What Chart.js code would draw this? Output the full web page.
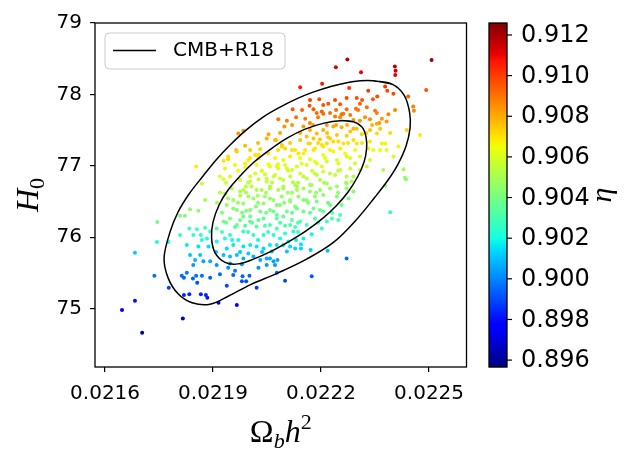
<!DOCTYPE html>
<html>
<head>
<meta charset="utf-8">
<script src="https://cdn.jsdelivr.net/npm/chart.js@4.4.0/dist/chart.umd.min.js"></script>
<style>
  html, body { margin: 0; padding: 0; background: #fff; }
  #wrap { width: 634px; height: 465px; }
</style>
</head>
<body>
<div id="wrap"><canvas id="chart" width="634" height="465"></canvas></div>
<script>
// samples: [omega_b h^2, H0, eta]
const redBand = [
  [0.022273, 78.49, 0.9117], [0.022241, 78.38, 0.9113], [0.022311, 78.31, 0.9110],
  [0.022405, 78.39, 0.9117], [0.022407, 78.33, 0.9114], [0.022406, 78.27, 0.9111],
  [0.022507, 78.48, 0.9121], [0.022142, 78.10, 0.9106], [0.022203, 78.15, 0.9107],
  [0.022278, 78.09, 0.9103], [0.022378, 78.11, 0.9102], [0.022384, 78.05, 0.9099],
  [0.022401, 78.01, 0.9097], [0.022331, 78.05, 0.9100], [0.022356, 77.97, 0.9097],
  [0.022344, 77.93, 0.9095], [0.022442, 77.97, 0.9094], [0.022492, 78.06, 0.9096],
  [0.022195, 77.93, 0.9097], [0.022299, 77.95, 0.9097], [0.022271, 77.95, 0.9098]
];

const orangeBand = [
  [0.022168, 77.84, 0.9097], [0.022179, 77.79, 0.9095], [0.022206, 77.85, 0.9096],
  [0.022220, 77.87, 0.9096], [0.022188, 77.74, 0.9092], [0.022202, 77.76, 0.9093],
  [0.022225, 77.74, 0.9091], [0.022253, 77.86, 0.9095], [0.022271, 77.79, 0.9092],
  [0.022257, 77.72, 0.9090], [0.022281, 77.71, 0.9089], [0.022308, 77.87, 0.9094],
  [0.022327, 77.82, 0.9091], [0.022297, 77.80, 0.9091], [0.022350, 77.77, 0.9089],
  [0.022355, 77.74, 0.9088], [0.022369, 77.66, 0.9084], [0.022387, 77.72, 0.9087],
  [0.022382, 77.62, 0.9083], [0.022362, 77.60, 0.9083], [0.022336, 77.65, 0.9085],
  [0.022308, 77.63, 0.9084], [0.022290, 77.64, 0.9085], [0.022156, 77.66, 0.9089],
  [0.022169, 77.60, 0.9087], [0.022151, 77.55, 0.9084], [0.022121, 77.79, 0.9096],
  [0.022105, 77.63, 0.9089], [0.022456, 77.83, 0.9088], [0.022458, 77.77, 0.9086],
  [0.022438, 77.50, 0.9073], [0.022475, 77.43, 0.9068], [0.022206, 77.73, 0.9092],
  [0.022239, 77.69, 0.9089], [0.022262, 77.73, 0.9090], [0.022216, 77.57, 0.9084],
  [0.022290, 77.52, 0.9078], [0.022336, 77.50, 0.9076], [0.022355, 77.59, 0.9081],
  [0.022081, 77.65, 0.9090], [0.022098, 77.55, 0.9084], [0.021984, 77.49, 0.9085],
  [0.021970, 77.45, 0.9084], [0.022054, 77.44, 0.9080], [0.022049, 77.38, 0.9078],
  [0.022075, 77.36, 0.9077], [0.022169, 77.50, 0.9080], [0.022188, 77.45, 0.9077],
  [0.022206, 77.50, 0.9079], [0.022234, 77.55, 0.9081], [0.022257, 77.54, 0.9080],
  [0.022281, 77.48, 0.9075], [0.022299, 77.52, 0.9076], [0.022313, 77.44, 0.9073],
  [0.022271, 77.42, 0.9073], [0.022244, 77.43, 0.9075], [0.022220, 77.40, 0.9074],
  [0.022197, 77.37, 0.9074], [0.022179, 77.38, 0.9075], [0.022160, 77.41, 0.9076],
  [0.022142, 77.36, 0.9075], [0.022169, 77.31, 0.9072], [0.022216, 77.31, 0.9071],
  [0.022234, 77.34, 0.9071], [0.022290, 77.36, 0.9071], [0.022262, 77.31, 0.9070],
  [0.022091, 77.29, 0.9074], [0.022100, 77.24, 0.9072], [0.022072, 77.36, 0.9077],
  [0.022128, 77.22, 0.9070], [0.022336, 77.34, 0.9069], [0.022355, 77.45, 0.9072],
  [0.022364, 77.52, 0.9075], [0.022369, 77.31, 0.9067], [0.022382, 77.22, 0.9063],
  [0.022345, 77.22, 0.9064], [0.022331, 77.24, 0.9066], [0.021989, 77.28, 0.9077],
  [0.021964, 77.22, 0.9076], [0.022031, 77.23, 0.9073], [0.021966, 77.20, 0.9074],
  [0.022026, 77.15, 0.9070], [0.022054, 77.17, 0.9071], [0.022091, 77.27, 0.9073],
  [0.022119, 77.22, 0.9071], [0.022137, 77.17, 0.9069], [0.022165, 77.31, 0.9072],
  [0.022183, 77.24, 0.9069], [0.022202, 77.29, 0.9070], [0.021942, 77.13, 0.9072],
  [0.022225, 77.38, 0.9073], [0.022248, 77.34, 0.9071], [0.022299, 77.31, 0.9069],
  [0.022378, 77.31, 0.9067], [0.022206, 77.27, 0.9069]
];

const yellowBand = [
  [0.022095, 77.08, 0.9066], [0.022114, 77.13, 0.9067], [0.022151, 77.17, 0.9068],
  [0.022179, 77.22, 0.9069], [0.022206, 77.15, 0.9065], [0.022234, 77.20, 0.9066],
  [0.022253, 77.24, 0.9068], [0.022244, 77.08, 0.9061], [0.022271, 77.13, 0.9062],
  [0.022216, 77.06, 0.9061], [0.022188, 77.03, 0.9061], [0.022160, 77.01, 0.9061],
  [0.022133, 76.99, 0.9061], [0.022077, 76.99, 0.9063], [0.022105, 76.96, 0.9061],
  [0.022281, 76.96, 0.9056], [0.022308, 77.13, 0.9061], [0.022294, 77.03, 0.9058],
  [0.022336, 77.08, 0.9059], [0.022327, 76.99, 0.9055], [0.022401, 77.13, 0.9059],
  [0.022415, 77.27, 0.9064], [0.022429, 76.95, 0.9050], [0.022436, 76.81, 0.9045],
  [0.022188, 76.87, 0.9055], [0.022225, 76.89, 0.9055], [0.022253, 76.94, 0.9056],
  [0.022151, 76.85, 0.9055], [0.022114, 76.85, 0.9056], [0.022086, 76.82, 0.9056],
  [0.022017, 77.15, 0.9070], [0.022026, 77.10, 0.9068], [0.021929, 77.07, 0.9070],
  [0.021942, 77.09, 0.9071], [0.021961, 77.01, 0.9067], [0.021989, 77.03, 0.9067],
  [0.021998, 77.08, 0.9068], [0.021989, 76.98, 0.9065], [0.021933, 76.96, 0.9066],
  [0.021853, 76.99, 0.9068], [0.022021, 77.01, 0.9065], [0.022035, 76.93, 0.9062],
  [0.022058, 76.99, 0.9063], [0.022080, 77.02, 0.9063], [0.022044, 76.88, 0.9059],
  [0.021919, 76.85, 0.9062], [0.021929, 76.81, 0.9060], [0.022003, 76.78, 0.9057],
  [0.022026, 76.81, 0.9057], [0.022049, 76.78, 0.9055], [0.022068, 76.85, 0.9058],
  [0.022017, 76.89, 0.9061], [0.022054, 77.02, 0.9064], [0.022081, 76.96, 0.9062],
  [0.022100, 77.01, 0.9063], [0.022119, 76.94, 0.9060], [0.022146, 77.03, 0.9062],
  [0.022169, 77.09, 0.9064], [0.022183, 77.06, 0.9063], [0.022202, 76.99, 0.9060],
  [0.021947, 76.85, 0.9060], [0.021975, 76.80, 0.9058], [0.022003, 76.85, 0.9059],
  [0.022049, 76.82, 0.9057], [0.022072, 76.87, 0.9058], [0.022095, 76.80, 0.9055],
  [0.022122, 76.77, 0.9053], [0.022142, 76.89, 0.9058], [0.022160, 76.82, 0.9055],
  [0.022183, 76.89, 0.9056], [0.022197, 76.80, 0.9052], [0.022267, 77.17, 0.9064],
  [0.022248, 77.03, 0.9060], [0.022308, 76.94, 0.9055], [0.022206, 76.92, 0.9058],
  [0.022239, 76.87, 0.9055], [0.022271, 76.85, 0.9054], [0.022285, 76.78, 0.9050],
  [0.022373, 76.94, 0.9050], [0.022433, 76.83, 0.9045]
];

const greenBand = [
  [0.022290, 76.85, 0.9051], [0.022271, 76.75, 0.9048], [0.022169, 76.73, 0.9050],
  [0.022133, 76.71, 0.9050], [0.022095, 76.71, 0.9051], [0.022216, 76.75, 0.9050],
  [0.022244, 76.71, 0.9047], [0.022378, 76.72, 0.9044], [0.021869, 76.75, 0.9056],
  [0.021991, 76.71, 0.9054], [0.021836, 76.39, 0.9045], [0.021859, 76.37, 0.9044],
  [0.021878, 76.52, 0.9050], [0.021822, 76.30, 0.9042], [0.021808, 76.30, 0.9042],
  [0.021745, 76.21, 0.9040], [0.021929, 76.22, 0.9040], [0.021947, 76.26, 0.9041],
  [0.021966, 76.17, 0.9037], [0.021984, 76.29, 0.9039], [0.022003, 76.22, 0.9036],
  [0.022021, 76.15, 0.9034], [0.022040, 76.26, 0.9036], [0.022058, 76.17, 0.9032],
  [0.022077, 76.26, 0.9035], [0.021910, 76.12, 0.9034], [0.021938, 76.45, 0.9045],
  [0.021956, 76.52, 0.9048], [0.021984, 76.47, 0.9046], [0.022012, 76.54, 0.9048],
  [0.022040, 76.47, 0.9044], [0.022058, 76.54, 0.9046], [0.022077, 76.45, 0.9042],
  [0.022003, 76.38, 0.9042], [0.022031, 76.36, 0.9040], [0.021966, 76.38, 0.9043],
  [0.022068, 76.36, 0.9039], [0.021933, 76.61, 0.9052], [0.021975, 76.64, 0.9052],
  [0.022021, 76.66, 0.9052], [0.022058, 76.68, 0.9051], [0.022077, 76.12, 0.9030],
  [0.022114, 76.17, 0.9031], [0.022142, 76.22, 0.9032], [0.022160, 76.17, 0.9029],
  [0.022183, 76.26, 0.9032], [0.022202, 76.12, 0.9026], [0.022216, 76.22, 0.9029],
  [0.022230, 76.26, 0.9030], [0.022248, 76.24, 0.9029], [0.022253, 76.31, 0.9031],
  [0.022206, 76.36, 0.9035], [0.022179, 76.40, 0.9038], [0.022151, 76.36, 0.9037],
  [0.022133, 76.40, 0.9039], [0.022105, 76.36, 0.9038], [0.022077, 76.31, 0.9037],
  [0.022086, 76.45, 0.9042], [0.022114, 76.50, 0.9043], [0.022151, 76.52, 0.9043],
  [0.022188, 76.50, 0.9041], [0.022225, 76.45, 0.9038], [0.022257, 76.45, 0.9037],
  [0.022276, 76.54, 0.9040], [0.022244, 76.57, 0.9042], [0.022206, 76.59, 0.9044],
  [0.022169, 76.64, 0.9046], [0.022133, 76.66, 0.9049], [0.022095, 76.68, 0.9050],
  [0.022225, 76.68, 0.9047], [0.022271, 76.68, 0.9045], [0.022290, 76.64, 0.9043],
  [0.021952, 76.68, 0.9054], [0.021984, 76.66, 0.9053], [0.022007, 76.71, 0.9053],
  [0.022035, 76.66, 0.9051], [0.022058, 76.71, 0.9052], [0.022081, 76.66, 0.9050],
  [0.022108, 76.62, 0.9048], [0.022128, 76.73, 0.9051], [0.022151, 76.68, 0.9049],
  [0.022174, 76.73, 0.9050], [0.022197, 76.66, 0.9047], [0.021942, 76.54, 0.9049],
  [0.021975, 76.58, 0.9050], [0.021998, 76.57, 0.9049], [0.022024, 76.58, 0.9049],
  [0.022044, 76.57, 0.9048], [0.022068, 76.52, 0.9046], [0.022091, 76.57, 0.9047],
  [0.022114, 76.52, 0.9045], [0.022137, 76.57, 0.9046], [0.022160, 76.52, 0.9044],
  [0.022183, 76.57, 0.9045], [0.021956, 76.40, 0.9044], [0.021992, 76.37, 0.9042],
  [0.022019, 76.43, 0.9043], [0.022058, 76.38, 0.9041], [0.022128, 76.43, 0.9041],
  [0.022197, 76.38, 0.9038], [0.021975, 76.24, 0.9038], [0.022003, 76.29, 0.9038],
  [0.022026, 76.24, 0.9036], [0.022095, 76.29, 0.9036], [0.022119, 76.24, 0.9034],
  [0.021961, 76.14, 0.9034], [0.021989, 76.16, 0.9034], [0.022044, 76.16, 0.9033],
  [0.022100, 76.16, 0.9032], [0.022128, 76.14, 0.9030], [0.022392, 76.35, 0.9025]
];

const cyanBand = [
  [0.021744, 75.93, 0.9020], [0.021776, 75.93, 0.9020], [0.021808, 76.03, 0.9025],
  [0.021834, 76.12, 0.9030], [0.021855, 76.11, 0.9030], [0.021845, 76.03, 0.9025],
  [0.021866, 76.03, 0.9025], [0.021878, 76.13, 0.9030], [0.021892, 76.08, 0.9027],
  [0.021883, 75.98, 0.9022], [0.021869, 75.96, 0.9021], [0.021827, 75.89, 0.9017],
  [0.021859, 75.87, 0.9016], [0.021887, 75.87, 0.9016], [0.021836, 75.75, 0.9011],
  [0.021864, 75.75, 0.9011], [0.021850, 75.68, 0.9008], [0.021892, 75.66, 0.9007],
  [0.021929, 75.75, 0.9010], [0.021947, 75.73, 0.9009], [0.021910, 75.94, 0.9020],
  [0.021933, 75.98, 0.9022], [0.021938, 75.84, 0.9014], [0.021956, 75.89, 0.9017],
  [0.021970, 75.96, 0.9021], [0.021984, 75.87, 0.9016], [0.022003, 75.89, 0.9017],
  [0.022021, 75.87, 0.9016], [0.022040, 75.84, 0.9014], [0.022058, 75.89, 0.9016],
  [0.022077, 75.89, 0.9016], [0.021998, 75.77, 0.9011], [0.021966, 75.75, 0.9010],
  [0.021947, 75.63, 0.9004], [0.021984, 75.70, 0.9007], [0.022012, 75.73, 0.9008],
  [0.022031, 75.68, 0.9006], [0.022049, 75.70, 0.9007], [0.022068, 75.66, 0.9005],
  [0.021984, 76.08, 0.9026], [0.022012, 76.03, 0.9024], [0.022040, 76.03, 0.9023],
  [0.022068, 76.03, 0.9022], [0.021947, 76.03, 0.9025], [0.021683, 75.78, 0.9012],
  [0.022218, 75.81, 0.9010], [0.022171, 75.82, 0.9012], [0.022144, 75.84, 0.9013],
  [0.022128, 75.84, 0.9013], [0.022114, 75.87, 0.9014], [0.022095, 75.89, 0.9016],
  [0.022144, 75.90, 0.9016], [0.022151, 75.98, 0.9018], [0.022174, 76.04, 0.9019],
  [0.022086, 75.98, 0.9020], [0.022109, 75.94, 0.9018], [0.022100, 76.05, 0.9023],
  [0.022123, 76.08, 0.9023], [0.021980, 75.62, 0.9004], [0.022026, 75.57, 0.9001],
  [0.022049, 75.61, 0.9003], [0.021942, 75.57, 0.9001], [0.021910, 75.61, 0.9003],
  [0.021873, 75.66, 0.9005], [0.021845, 75.61, 0.9003], [0.022063, 75.80, 0.9011],
  [0.022105, 75.80, 0.9011]
];

const blueBand = [
  [0.021919, 75.48, 0.8996], [0.021961, 75.53, 0.8998], [0.021982, 75.45, 0.8994],
  [0.021992, 75.38, 0.8991], [0.021980, 75.38, 0.8991], [0.022001, 75.46, 0.8994],
  [0.021956, 75.47, 0.8995], [0.022021, 75.29, 0.8987], [0.021938, 75.32, 0.8989],
  [0.021892, 75.43, 0.8994], [0.021869, 75.46, 0.8996], [0.021853, 75.46, 0.8996],
  [0.021856, 75.36, 0.8991], [0.021844, 75.42, 0.8994], [0.021827, 75.50, 0.8998],
  [0.021813, 75.46, 0.8996], [0.021819, 75.43, 0.8994], [0.021737, 75.46, 0.8997],
  [0.021777, 75.29, 0.8989], [0.021819, 75.19, 0.8984], [0.021834, 75.20, 0.8984],
  [0.021866, 75.20, 0.8984], [0.021880, 75.19, 0.8984], [0.021884, 75.15, 0.8982],
  [0.021915, 75.08, 0.8978], [0.021966, 75.05, 0.8977], [0.021683, 75.11, 0.8980],
  [0.021647, 74.98, 0.8973], [0.021816, 74.86, 0.8966], [0.021703, 74.66, 0.8962],
  [0.022077, 75.50, 0.8995], [0.022271, 75.70, 0.8996], [0.022174, 75.45, 0.8993],
  [0.022100, 75.39, 0.8990], [0.022072, 75.61, 0.9003], [0.022079, 75.68, 0.9006],
  [0.022058, 75.70, 0.9007]
];

// extra dots inside the densely packed inner region
const coreBand = [
  [0.0221694, 77.92, 0.9100], [0.0222389, 77.92, 0.9098], [0.0223139, 77.92, 0.9096],
  [0.0221472, 77.78, 0.9094], [0.0222417, 77.78, 0.9092], [0.0223028, 77.78, 0.9090],
  [0.0224056, 77.78, 0.9087], [0.0221306, 77.68, 0.9091], [0.0221917, 77.68, 0.9089],
  [0.0222528, 77.68, 0.9087], [0.0223222, 77.68, 0.9085], [0.0221194, 77.57, 0.9084],
  [0.0221778, 77.57, 0.9083], [0.0222417, 77.57, 0.9081], [0.0222722, 77.57, 0.9080],
  [0.0223417, 77.57, 0.9078], [0.0220861, 77.46, 0.9080], [0.0221417, 77.46, 0.9079],
  [0.0222167, 77.46, 0.9076], [0.0223250, 77.46, 0.9073], [0.0223917, 77.46, 0.9071],
  [0.0220250, 77.32, 0.9077], [0.0221139, 77.32, 0.9074], [0.0221917, 77.32, 0.9072],
  [0.0222750, 77.32, 0.9070], [0.0223139, 77.32, 0.9069], [0.0220028, 77.22, 0.9074],
  [0.0220806, 77.22, 0.9071], [0.0221556, 77.22, 0.9069], [0.0222250, 77.22, 0.9067],
  [0.0222944, 77.22, 0.9065], [0.0223639, 77.22, 0.9063], [0.0220028, 77.11, 0.9069],
  [0.0220722, 77.11, 0.9067], [0.0221417, 77.11, 0.9065], [0.0222111, 77.11, 0.9063],
  [0.0222806, 77.11, 0.9061], [0.0219694, 76.93, 0.9064], [0.0220361, 76.93, 0.9062],
  [0.0221083, 76.93, 0.9060], [0.0221750, 76.93, 0.9058], [0.0222472, 76.93, 0.9056],
  [0.0219361, 76.76, 0.9058], [0.0219972, 76.76, 0.9056], [0.0220639, 76.76, 0.9054],
  [0.0221361, 76.76, 0.9052], [0.0222083, 76.76, 0.9050], [0.0222694, 76.76, 0.9048],
  [0.0219194, 76.62, 0.9053], [0.0219917, 76.62, 0.9051], [0.0220472, 76.62, 0.9049],
  [0.0221194, 76.62, 0.9047], [0.0221861, 76.62, 0.9045], [0.0222472, 76.62, 0.9044],
  [0.0219111, 76.48, 0.9048], [0.0219694, 76.48, 0.9047], [0.0220250, 76.48, 0.9045],
  [0.0220972, 76.48, 0.9043], [0.0221639, 76.48, 0.9041], [0.0222194, 76.48, 0.9039],
  [0.0219250, 76.34, 0.9042], [0.0219806, 76.34, 0.9040], [0.0220472, 76.34, 0.9038],
  [0.0221194, 76.34, 0.9036], [0.0221694, 76.34, 0.9035], [0.0222306, 76.34, 0.9033],
  [0.0219361, 76.20, 0.9037], [0.0220083, 76.20, 0.9034], [0.0220861, 76.20, 0.9032],
  [0.0221361, 76.20, 0.9031], [0.0221917, 76.20, 0.9029], [0.0219250, 76.07, 0.9030],
  [0.0219972, 76.07, 0.9028], [0.0220528, 76.07, 0.9027], [0.0221361, 76.07, 0.9025],
  [0.0219528, 75.96, 0.9020], [0.0220250, 75.96, 0.9019], [0.0221306, 75.96, 0.9017],
  [0.0219083, 75.79, 0.9011], [0.0219750, 75.79, 0.9011], [0.0220361, 75.79, 0.9010]
];

// CMB+R18 contours
const outerContour = [
  [0.0223444, 78.192], [0.0223972, 78.143], [0.0224306, 77.989], [0.0224458, 77.751],
  [0.0224472, 77.527], [0.0224361, 77.276], [0.0224139, 77.024], [0.0223861, 76.800],
  [0.0223500, 76.562], [0.0223000, 76.255], [0.0222361, 75.933], [0.0221611, 75.695],
  [0.0220806, 75.499], [0.0220028, 75.331], [0.0219444, 75.178], [0.0218917, 75.059],
  [0.0218417, 75.080], [0.0218028, 75.206], [0.0217750, 75.429], [0.0217639, 75.709],
  [0.0217806, 76.073], [0.0218028, 76.352], [0.0218333, 76.604], [0.0218722, 76.856],
  [0.0219083, 77.080], [0.0219472, 77.290], [0.0219917, 77.499], [0.0220389, 77.681],
  [0.0220861, 77.821], [0.0221333, 77.940], [0.0221778, 78.031], [0.0222250, 78.108],
  [0.0222861, 78.178]
];
const innerContour = [
  [0.0222528, 77.632], [0.0222889, 77.618], [0.0223139, 77.541], [0.0223250, 77.401],
  [0.0223264, 77.234], [0.0223194, 77.052], [0.0223028, 76.856], [0.0222750, 76.632],
  [0.0222417, 76.436], [0.0222028, 76.255], [0.0221583, 76.087], [0.0221139, 75.947],
  [0.0220639, 75.807], [0.0220139, 75.695], [0.0219694, 75.625], [0.0219333, 75.646],
  [0.0219056, 75.779], [0.0218958, 75.989], [0.0219000, 76.213], [0.0219167, 76.450],
  [0.0219417, 76.660], [0.0219750, 76.856], [0.0220139, 77.052], [0.0220583, 77.227],
  [0.0221056, 77.387], [0.0221556, 77.513], [0.0222083, 77.597]
];

const xTicks = [0.0216, 0.0219, 0.0222, 0.0225];
const yTicks = [75, 76, 77, 78, 79];
const etaTicks = [0.896, 0.898, 0.900, 0.902, 0.904, 0.906, 0.908, 0.910, 0.912];
const etaMin = 0.89566, etaMax = 0.91259;

// matplotlib "jet"
function seg(t, pts) {
  for (let i = 1; i < pts.length; i++) {
    if (t <= pts[i][0]) {
      const [x0, y0] = pts[i - 1], [x1, y1] = pts[i];
      return y0 + (y1 - y0) * (t - x0) / (x1 - x0);
    }
  }
  return pts[pts.length - 1][1];
}
function jet(t) {
  t = Math.min(1, Math.max(0, t));
  const r = seg(t, [[0, 0], [0.35, 0], [0.66, 1], [0.89, 1], [1, 0.5]]);
  const g = seg(t, [[0, 0], [0.125, 0], [0.375, 1], [0.64, 1], [0.91, 0], [1, 0]]);
  const b = seg(t, [[0, 0.5], [0.11, 1], [0.34, 1], [0.65, 0], [1, 0]]);
  return `rgb(${Math.round(r * 255)},${Math.round(g * 255)},${Math.round(b * 255)})`;
}
const etaColor = (v) => jet((v - etaMin) / (etaMax - etaMin));

const samples = [].concat(redBand, orangeBand, yellowBand, coreBand, greenBand, cyanBand, blueBand);
const closeLoop = (pts) => pts.concat([pts[0], pts[1]]).map(([x, y]) => ({ x, y }));

const area = { left: 95, right: 466.5, top: 23, bottom: 367 };
const cbar = { left: 489, right: 507 };

function drawMath(ctx, parts, cx, cy) {
  // parts: [text, font, dy]
  let w = 0;
  parts.forEach((p) => { ctx.font = p[1]; w += ctx.measureText(p[0]).width; });
  let x = cx - w / 2;
  parts.forEach((p) => {
    ctx.font = p[1];
    ctx.fillText(p[0], x, cy + p[2]);
    x += ctx.measureText(p[0]).width;
  });
}

const decorations = {
  id: "decorations",
  afterDraw(chart) {
    const ctx = chart.ctx;
    const ca = chart.chartArea;
    ctx.save();

    // axes frame
    ctx.strokeStyle = "#000";
    ctx.lineWidth = 1.3;
    ctx.strokeRect(ca.left, ca.top, ca.right - ca.left, ca.bottom - ca.top);

    // legend
    const lx = 105, ly = 33, lw = 180, lh = 36, r = 4;
    ctx.beginPath();
    ctx.moveTo(lx + r, ly);
    ctx.arcTo(lx + lw, ly, lx + lw, ly + lh, r);
    ctx.arcTo(lx + lw, ly + lh, lx, ly + lh, r);
    ctx.arcTo(lx, ly + lh, lx, ly, r);
    ctx.arcTo(lx, ly, lx + lw, ly, r);
    ctx.closePath();
    ctx.fillStyle = "rgba(255,255,255,0.8)";
    ctx.fill();
    ctx.strokeStyle = "#cccccc";
    ctx.lineWidth = 1;
    ctx.stroke();
    ctx.beginPath();
    ctx.moveTo(113, 50.5);
    ctx.lineTo(156, 50.5);
    ctx.strokeStyle = "#000";
    ctx.lineWidth = 1.5;
    ctx.stroke();
    ctx.fillStyle = "#000";
    ctx.font = "20px 'DejaVu Sans'";
    ctx.textBaseline = "middle";
    ctx.textAlign = "left";
    ctx.fillText("CMB+R18", 173, 51);

    // colorbar
    const top = ca.top, bottom = ca.bottom, h = bottom - top;
    for (let i = 0; i < h; i++) {
      const v = etaMax - (i + 0.5) / h * (etaMax - etaMin);
      ctx.fillStyle = etaColor(v);
      ctx.fillRect(cbar.left, top + i, cbar.right - cbar.left, 1.2);
    }
    ctx.strokeStyle = "#000";
    ctx.lineWidth = 1.3;
    ctx.strokeRect(cbar.left, top, cbar.right - cbar.left, h);
    ctx.fillStyle = "#000";
    ctx.font = "24px 'DejaVu Sans'";
    ctx.textAlign = "left";
    ctx.textBaseline = "middle";
    etaTicks.forEach((v) => {
      const y = top + (etaMax - v) / (etaMax - etaMin) * h;
      ctx.beginPath();
      ctx.moveTo(cbar.right, y);
      ctx.lineTo(cbar.right + 5, y);
      ctx.lineWidth = 1.2;
      ctx.stroke();
      ctx.fillText(v.toFixed(3), cbar.right + 14, y + 1);
    });

    // axis titles (math style)
    ctx.textAlign = "left";
    ctx.textBaseline = "alphabetic";
    drawMath(ctx, [
      ["\u03A9", "32px 'Liberation Serif'", 0],
      ["b", "italic 22px 'Liberation Serif'", 6],
      ["h", "italic 32px 'Liberation Serif'", 0],
      ["2", "22px 'Liberation Serif'", -13]
    ], (ca.left + ca.right) / 2, 442);

    ctx.save();
    ctx.translate(38, (ca.top + ca.bottom) / 2);
    ctx.rotate(-Math.PI / 2);
    drawMath(ctx, [
      ["H", "italic 32px 'Liberation Serif'", 0],
      ["0", "22px 'Liberation Serif'", 6]
    ], 0, 0);
    ctx.restore();

    ctx.save();
    ctx.translate(611, (ca.top + ca.bottom) / 2);
    ctx.rotate(-Math.PI / 2);
    drawMath(ctx, [["\u03B7", "italic 30px 'Liberation Serif'", 0]], 0, 0);
    ctx.restore();

    ctx.restore();
  }
};

Chart.defaults.font.family = "'DejaVu Sans'";

const contourStyle = {
  showLine: true,
  borderColor: "#000",
  borderWidth: 1.5,
  pointRadius: 0,
  tension: 0.35,
  order: 0
};

new Chart(document.getElementById("chart"), {
  type: "scatter",
  data: {
    datasets: [
      Object.assign({ label: "CMB+R18", data: closeLoop(outerContour) }, contourStyle),
      Object.assign({ label: "inner", data: closeLoop(innerContour) }, contourStyle),
      {
        label: "samples",
        data: samples.map(([x, y]) => ({ x, y })),
        pointRadius: 2,
        pointBorderWidth: 0,
        pointBackgroundColor: samples.map((s) => etaColor(s[2])),
        order: 1
      }
    ]
  },
  options: {
    responsive: false,
    animation: false,
    events: [],
    layout: { padding: { left: 0, top: area.top, right: 634 - area.right, bottom: 0 } },
    plugins: { legend: { display: false }, tooltip: { enabled: false } },
    scales: {
      x: {
        type: "linear",
        min: 0.021572,
        max: 0.022604,
        afterBuildTicks: (s) => { s.ticks = xTicks.map((v) => ({ value: v })); },
        afterFit: (s) => { s.height = 465 - area.bottom; },
        ticks: { callback: (v) => v.toFixed(4), color: "#000", font: { size: 20 }, padding: 10, maxRotation: 0, autoSkip: false },
        grid: { drawOnChartArea: false, tickLength: 5, color: "#000", lineWidth: 1.2 },
        border: { display: false }
      },
      y: {
        type: "linear",
        min: 74.18,
        max: 79.0,
        afterBuildTicks: (s) => { s.ticks = yTicks.map((v) => ({ value: v })); },
        afterFit: (s) => { s.width = area.left; },
        ticks: { callback: (v) => String(v), color: "#000", font: { size: 20 }, padding: 8, autoSkip: false },
        grid: { drawOnChartArea: false, tickLength: 5, color: "#000", lineWidth: 1.2 },
        border: { display: false }
      }
    }
  },
  plugins: [decorations]
});
</script>
</body>
</html>
